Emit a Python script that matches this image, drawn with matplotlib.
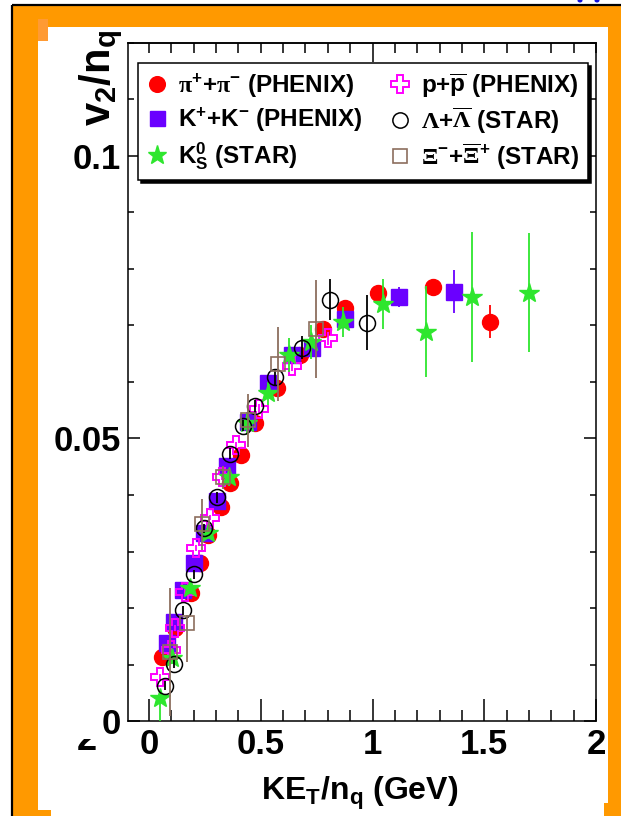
import matplotlib
matplotlib.use("Agg")
import matplotlib.pyplot as plt
import matplotlib.font_manager as fm
from matplotlib.patches import Rectangle, Ellipse
from matplotlib.lines import Line2D
from matplotlib.ticker import MultipleLocator, FixedLocator, FuncFormatter
from matplotlib.transforms import Bbox

# ---------------- data ----------------
pion_x = [0.06, 0.118, 0.186, 0.23, 0.266, 0.32, 0.364, 0.41, 0.475, 0.573, 0.677, 0.78, 0.877, 1.025, 1.27, 1.524]
pion_y = [0.0113, 0.0164, 0.0226, 0.0279, 0.0329, 0.0378, 0.0422, 0.047, 0.0527, 0.059, 0.0647, 0.0693, 0.0731, 0.0758, 0.0768, 0.0707]
pion_e = [0.0005, 0.0005, 0.0005, 0.0005, 0.0005, 0.0005, 0.0005, 0.0005, 0.0005, 0.0005, 0.0005, 0.0008, 0.001, 0.0012, 0.0015, 0.0029]

kaon_x = [0.082, 0.114, 0.154, 0.2, 0.245, 0.305, 0.35, 0.445, 0.534, 0.64, 0.73, 0.877, 1.118, 1.364]
kaon_y = [0.0138, 0.0175, 0.0231, 0.028, 0.0332, 0.039, 0.0452, 0.053, 0.0599, 0.0647, 0.066, 0.0712, 0.0751, 0.076]
kaon_e = [0.0005, 0.0005, 0.0005, 0.0005, 0.0005, 0.0005, 0.0005, 0.0005, 0.0006, 0.0008, 0.001, 0.0012, 0.0018, 0.0038]

k0s_x = [0.05, 0.105, 0.185, 0.266, 0.356, 0.44, 0.534, 0.628, 0.725, 0.866, 1.047, 1.239, 1.444, 1.699]
k0s_y = [0.0041, 0.0111, 0.0235, 0.0332, 0.0431, 0.0527, 0.058, 0.0648, 0.067, 0.0706, 0.0738, 0.0689, 0.0751, 0.0758]
k0s_elo = [0.0041, 0.001, 0.001, 0.001, 0.0015, 0.002, 0.002, 0.003, 0.003, 0.0027, 0.0045, 0.0081, 0.0115, 0.0105]
k0s_ehi = [0.0008, 0.001, 0.001, 0.001, 0.0015, 0.002, 0.002, 0.003, 0.003, 0.0027, 0.0045, 0.0081, 0.0115, 0.0105]

prot_x = [0.05, 0.1, 0.118, 0.16, 0.21, 0.275, 0.325, 0.39, 0.49, 0.64, 0.8]
prot_y = [0.0078, 0.0125, 0.0165, 0.0228, 0.0306, 0.036, 0.0431, 0.0488, 0.0553, 0.0629, 0.0677]
prot_e = [0.0005, 0.0005, 0.0005, 0.0005, 0.0005, 0.0005, 0.0005, 0.0006, 0.0008, 0.001, 0.0012]

lam_x = [0.07, 0.11, 0.15, 0.2, 0.248, 0.306, 0.364, 0.42, 0.475, 0.565, 0.685, 0.81, 0.975]
lam_y = [0.0062, 0.0101, 0.0196, 0.026, 0.0341, 0.0396, 0.0473, 0.0523, 0.0557, 0.0608, 0.0661, 0.0746, 0.0705]
lam_e = [0.0008, 0.0008, 0.0008, 0.0008, 0.0008, 0.001, 0.001, 0.001, 0.0012, 0.0015, 0.002, 0.0036, 0.0049]

xi_x = [0.096, 0.172, 0.239, 0.33, 0.445, 0.575, 0.745]
xi_y = [0.0122, 0.0173, 0.0348, 0.0431, 0.0532, 0.0632, 0.0694]
xi_elo = [0.0113, 0.0069, 0.0045, 0.002, 0.0047, 0.0065, 0.0087]
xi_ehi = [0.0113, 0.0015, 0.0045, 0.002, 0.0047, 0.0065, 0.0087]

labels = [r"$\mathrm{π}^{\mathbf{+}}$+$\mathrm{π}^{\mathbf{-}}$ (PHENIX)",
          r"K$^{\mathbf{+}}$+K$^{\mathbf{-}}$ (PHENIX)",
          r"K$_{\mathbf{S}}^{\mathbf{0}}$ (STAR)",
          r"p+$\overline{\mathbf{p}}$ (PHENIX)",
          r"$\mathrm{Λ}$+$\overline{\mathrm{Λ}}$ (STAR)",
          r"$\mathrm{Ξ}^{\mathbf{-}}$+$\overline{\mathrm{Ξ}}^{\mathbf{+}}$ (STAR)"]
xticks = [0, 0.5, 1, 1.5, 2]
yticks = [0, 0.05, 0.1]

# ---------------- style ----------------
names = {f.name for f in fm.fontManager.ttflist}
NARROW = "Liberation Sans Narrow" if "Liberation Sans Narrow" in names else None
plt.rcParams['font.family'] = ['Liberation Sans', 'DejaVu Sans']
plt.rcParams['font.weight'] = 'bold'
plt.rcParams['mathtext.fontset'] = 'custom'
plt.rcParams['mathtext.rm'] = 'Liberation Serif'
plt.rcParams['mathtext.bf'] = 'Liberation Sans:bold'
plt.rcParams['mathtext.it'] = 'Liberation Sans:bold:italic'
plt.rcParams['mathtext.sf'] = 'Liberation Sans:bold'

W, H = 621, 816
fig = plt.figure(figsize=(W / 100, H / 100), dpi=100)
fig.patch.set_facecolor('white')

# background frame decoration (pixel coordinates)
bg = fig.add_axes([0, 0, 1, 1], zorder=-10)
bg.set_xlim(0, W)
bg.set_ylim(H, 0)
bg.axis('off')
ORANGE = '#FF9900'
for (x0, y0, w, h, c) in [(12, 5, W - 12, 22, ORANGE), (12, 5, 26, H - 5, ORANGE),
                          (608, 5, W - 608, H - 5, ORANGE), (38, 19, 9.5, 22, '#FF9A33'),
                          (38, 810, 13, 6, ORANGE), (604, 803, 4, 13, ORANGE)]:
    bg.add_patch(Rectangle((x0, y0), w, h, facecolor=c, edgecolor='none'))
bg.plot([12, W], [5, 5], color='black', lw=1.6, solid_capstyle='butt')
bg.plot([12, 12], [5, H], color='black', lw=1.6, solid_capstyle='butt')
for cx in (580, 597):
    bg.add_patch(Ellipse((cx, 0.5), 5, 4, facecolor='#1010dd', edgecolor='none'))

# main axes
L, R, T, B = 128, 596, 43, 721
ax = fig.add_axes([L / W, (H - B) / H, (R - L) / W, (B - T) / H])
ax.set_xlim(-0.094, 2.0)
ax.set_ylim(0, 0.12)
for s in ax.spines.values():
    s.set_linewidth(1.1)

RED, PURP, GREEN, MAG, BRN = '#FF0000', '#6A00FF', '#2EE62E', '#FF00FF', '#8C6E5E'

ax.errorbar(pion_x, pion_y, yerr=pion_e, fmt='o', ms=11.5, color=RED, mec=RED, elinewidth=1.3, capsize=0, zorder=3)
ax.errorbar(kaon_x, kaon_y, yerr=kaon_e, fmt='s', ms=11, color=PURP, mec=PURP, elinewidth=1.3, capsize=0, zorder=4)
ax.errorbar(prot_x, prot_y, yerr=prot_e, fmt='P', ms=13.5, color=MAG, mfc='none', mec=MAG, mew=1.4, elinewidth=1.3, capsize=0, zorder=5)
ax.errorbar(k0s_x, k0s_y, yerr=[k0s_elo, k0s_ehi], fmt='*', ms=14.5, color=GREEN, mec=GREEN, elinewidth=1.3, capsize=0, zorder=6)
ax.errorbar(lam_x, lam_y, yerr=lam_e, fmt='o', ms=11.5, color='black', mfc='none', mec='black', mew=1.1, elinewidth=1.3, capsize=0, zorder=7)
ax.errorbar(xi_x, xi_y, yerr=[xi_elo, xi_ehi], fmt='s', ms=10.5, color=BRN, mfc='none', mec=BRN, mew=1.2, elinewidth=1.3, capsize=0, zorder=8)

# ticks
ax.xaxis.set_major_locator(FixedLocator(xticks))
ax.xaxis.set_minor_locator(MultipleLocator(0.1))
ax.yaxis.set_major_locator(FixedLocator(yticks))
ax.yaxis.set_minor_locator(MultipleLocator(0.01))
ax.xaxis.set_major_formatter(FuncFormatter(lambda v, p: '%g' % v))
ax.yaxis.set_major_formatter(FuncFormatter(lambda v, p: '%g' % v))
ax.tick_params(which='both', direction='in', top=False, right=True, width=1.1, colors='black')
ax.tick_params(axis='x', which='major', length=15.8, pad=5)
ax.tick_params(axis='x', which='minor', length=7.9)
ax.tick_params(axis='y', which='major', length=8.6, pad=5)
ax.tick_params(axis='y', which='minor', length=4.3)
tick_family = [NARROW, 'Liberation Sans'] if NARROW else ['Liberation Sans']
tick_size = 28 if NARROW else 25
for lab in ax.get_xticklabels() + ax.get_yticklabels():
    lab.set_fontfamily(tick_family)
    lab.set_fontweight('bold')
    lab.set_fontsize(tick_size)

sec = ax.secondary_xaxis('top')
sec.xaxis.set_major_locator(FixedLocator([1.0]))
sec.xaxis.set_minor_locator(MultipleLocator(0.1))
sec.tick_params(which='both', direction='in', labeltop=False, width=1.1)
sec.tick_params(which='major', length=13.7)
sec.tick_params(which='minor', length=7.2)
sec.spines['top'].set_linewidth(1.1)

# axis labels
ax.set_xlabel(r"KE$_{\mathbf{T}}$/n$_{\mathbf{q}}$ (GeV)", fontsize=23, fontweight='bold')
ax.xaxis.set_label_coords(0.495, -0.079)
fig.text(101 / W, 1 - 30 / H, r"v$_{\mathbf{2}}$/n$_{\mathbf{q}}$", rotation=90,
         ha='center', va='top', fontsize=30, fontweight='bold')

# stray glyph at lower left
t2 = fig.text(87 / W, 1 - 758 / H, "2", ha='center', va='bottom', fontsize=26, fontweight='bold')
t2.set_clip_box(Bbox.from_extents(70, H - 758, 105, H - 739))

# legend
handles = [Line2D([], [], ls='none', marker='o', ms=11.3, color=RED),
           Line2D([], [], ls='none', marker='s', ms=10.8, color=PURP),
           Line2D([], [], ls='none', marker='*', ms=14, color=GREEN),
           Line2D([], [], ls='none', marker='P', ms=13, mfc='none', mec=MAG, mew=1.4),
           Line2D([], [], ls='none', marker='o', ms=11, mfc='none', mec='black', mew=1.1),
           Line2D([], [], ls='none', marker='s', ms=10, mfc='none', mec=BRN, mew=1.2)]
leg = ax.legend(handles, labels, ncol=2, loc='upper left',
                bbox_to_anchor=((138 - L) / (R - L), (B - 63) / (B - T)),
                borderaxespad=0, prop=dict(weight='bold', size=17.5),
                handlelength=0.85, handletextpad=0.45, columnspacing=1.1,
                borderpad=0.35, labelspacing=0.25, fancybox=False, framealpha=1,
                edgecolor='black', facecolor='white',
                shadow=dict(facecolor='black', edgecolor='black', alpha=1))
leg.get_frame().set_linewidth(1.1)
leg.set_zorder(20)

fig.savefig('out.png', dpi=100, facecolor='white')
